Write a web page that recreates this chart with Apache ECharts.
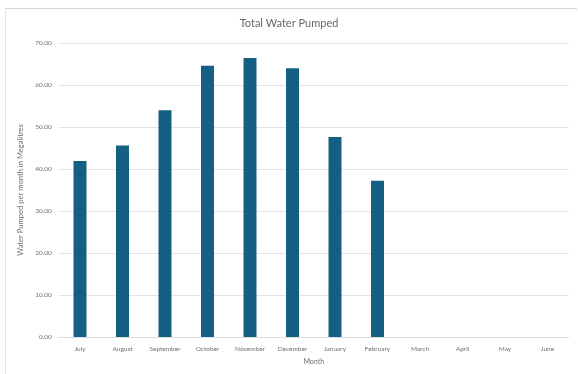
<!DOCTYPE html>
<html>
<head>
<meta charset="utf-8">
<script src="https://cdn.jsdelivr.net/npm/echarts@6/dist/echarts.min.js"></script>
<style>
  html, body { margin: 0; padding: 0; background: #ffffff; }
  #frame { position: absolute; left: 5px; top: 8px; width: 572px; height: 366px; border-top: 1px solid #d4d4d4; border-left: 1px solid #e6e6e6; box-sizing: border-box; }
  #chart { position: absolute; left: 0; top: 0; width: 578px; height: 374px; }
</style>
</head>
<body>
<div id="frame"></div>
<div id="chart"></div>
<script>
// Monthly totals, financial year July–June (megalitres)
const months = ['July', 'August', 'September', 'October', 'November', 'December',
                'January', 'February', 'March', 'April', 'May', 'June'];
const pumped = [41.9, 45.6, 54.0, 64.6, 66.4, 64.0, 47.6, 37.2, null, null, null, null];
const yTicks = { min: 0, max: 70, step: 10 };

const chart = echarts.init(document.getElementById('chart'), null, { renderer: 'canvas' });
const txt = '#707070';
const font = 'Lato, "Open Sans", sans-serif';

chart.setOption({
  backgroundColor: 'transparent',
  animation: false,
  title: {
    text: 'Total Water Pumped',
    left: 'center',
    top: 13,
    textStyle: { fontFamily: font, fontSize: 11, fontWeight: 'normal', color: '#666666' }
  },
  grid: { left: 58.75, right: 9.25, top: 43, bottom: 37, containLabel: false },
  xAxis: {
    type: 'category',
    data: months,
    name: 'Month',
    nameLocation: 'middle',
    nameGap: 21,
    nameTextStyle: { fontFamily: font, fontSize: 7, color: txt },
    axisLine: { show: true, lineStyle: { color: '#dedede', width: 1 } },
    axisTick: { show: false },
    axisLabel: { fontFamily: font, fontSize: 6.5, color: txt, margin: 8, interval: 0 }
  },
  yAxis: {
    type: 'value',
    min: yTicks.min,
    max: yTicks.max,
    interval: yTicks.step,
    name: 'Water Pumped per month in Megalitres',
    nameLocation: 'middle',
    nameGap: 28,
    nameTextStyle: { fontFamily: font, fontSize: 7.6, color: txt },
    axisLine: { show: false },
    axisTick: { show: false },
    axisLabel: {
      fontFamily: font, fontSize: 6.5, color: txt, margin: 7,
      formatter: v => v.toFixed(2)
    },
    splitLine: { lineStyle: { color: '#e3e3e3', width: 1 } }
  },
  series: [{
    type: 'bar',
    data: pumped,
    barWidth: 13,
    itemStyle: { color: '#156082' }
  }]
});
</script>
</body>
</html>
